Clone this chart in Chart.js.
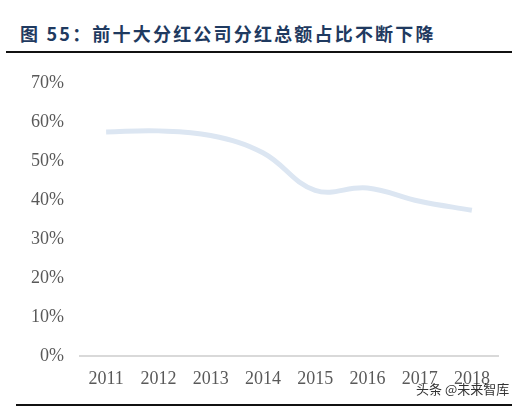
<!DOCTYPE html>
<html>
<head>
<meta charset="utf-8">
<script src="https://cdn.jsdelivr.net/npm/chart.js@4/dist/chart.umd.min.js"></script>
<style>
  html, body { margin: 0; padding: 0; background: #fff; }
  body { width: 520px; height: 408px; position: relative; overflow: hidden; }
  #title {
    position: absolute; left: 20px; top: 21px;
    font-family: "Noto Sans CJK SC", "Liberation Serif", serif;
    font-weight: bold; font-size: 18px; letter-spacing: 2.2px;
    color: #1f3a60; white-space: nowrap; line-height: 24px;
  }
  #topRule { position: absolute; left: 6px; top: 51px; width: 506px; height: 2px; background: #111; }
  #bottomRule { position: absolute; left: 16px; top: 404px; width: 496px; height: 2px; background: #111; }
  #wm {
    position: absolute; left: 416px; top: 379px;
    font-family: "Noto Sans CJK SC", sans-serif; font-size: 13px; color: #333; white-space: nowrap;
  }
  #wrap { position: absolute; left: 0; top: 56px; width: 520px; height: 360px; }
</style>
</head>
<body>
<div id="title">图 55：前十大分红公司分红总额占比不断下降</div>
<div id="topRule"></div>
<div id="wrap"><canvas id="c"></canvas></div>
<div id="wm">头条 @未来智库</div>
<div id="bottomRule"></div>
<script>
const categories = ["2011", "2012", "2013", "2014", "2015", "2016", "2017", "2018"];
const shareValues = [57.4, 57.7, 56.5, 52.1, 42.5, 43.1, 39.7, 37.4];
const yTicks = [0, 10, 20, 30, 40, 50, 60, 70];

new Chart(document.getElementById("c"), {
  type: "line",
  data: {
    labels: categories,
    datasets: [{
      data: shareValues,
      borderColor: "#dce6f2",
      borderWidth: 5,
      pointRadius: 0,
      tension: 0.4,
      fill: false
    }]
  },
  options: {
    responsive: true,
    maintainAspectRatio: false,
    animation: false,
    layout: { padding: { top: 19, right: 22, bottom: 14, left: 0 } },
    plugins: { legend: { display: false }, tooltip: { enabled: false } },
    scales: {
      x: {
        offset: true,
        grid: { display: false, drawTicks: false },
        border: { display: true, color: "#d9d9d9", width: 2 },
        ticks: {
          padding: 12,
          color: "#595959",
          font: { family: "Liberation Serif", size: 18 },
          maxRotation: 0
        }
      },
      y: {
        min: 0, max: 70,
        afterFit: (s) => { s.width = 80; },
        afterBuildTicks: (s) => { s.ticks = yTicks.map(v => ({ value: v })); },
        grid: { display: false, drawTicks: false },
        border: { display: false },
        ticks: {
          padding: 16,
          color: "#595959",
          font: { family: "Liberation Serif", size: 18 },
          callback: (v) => v + "%"
        }
      }
    }
  }
});
</script>
</body>
</html>
